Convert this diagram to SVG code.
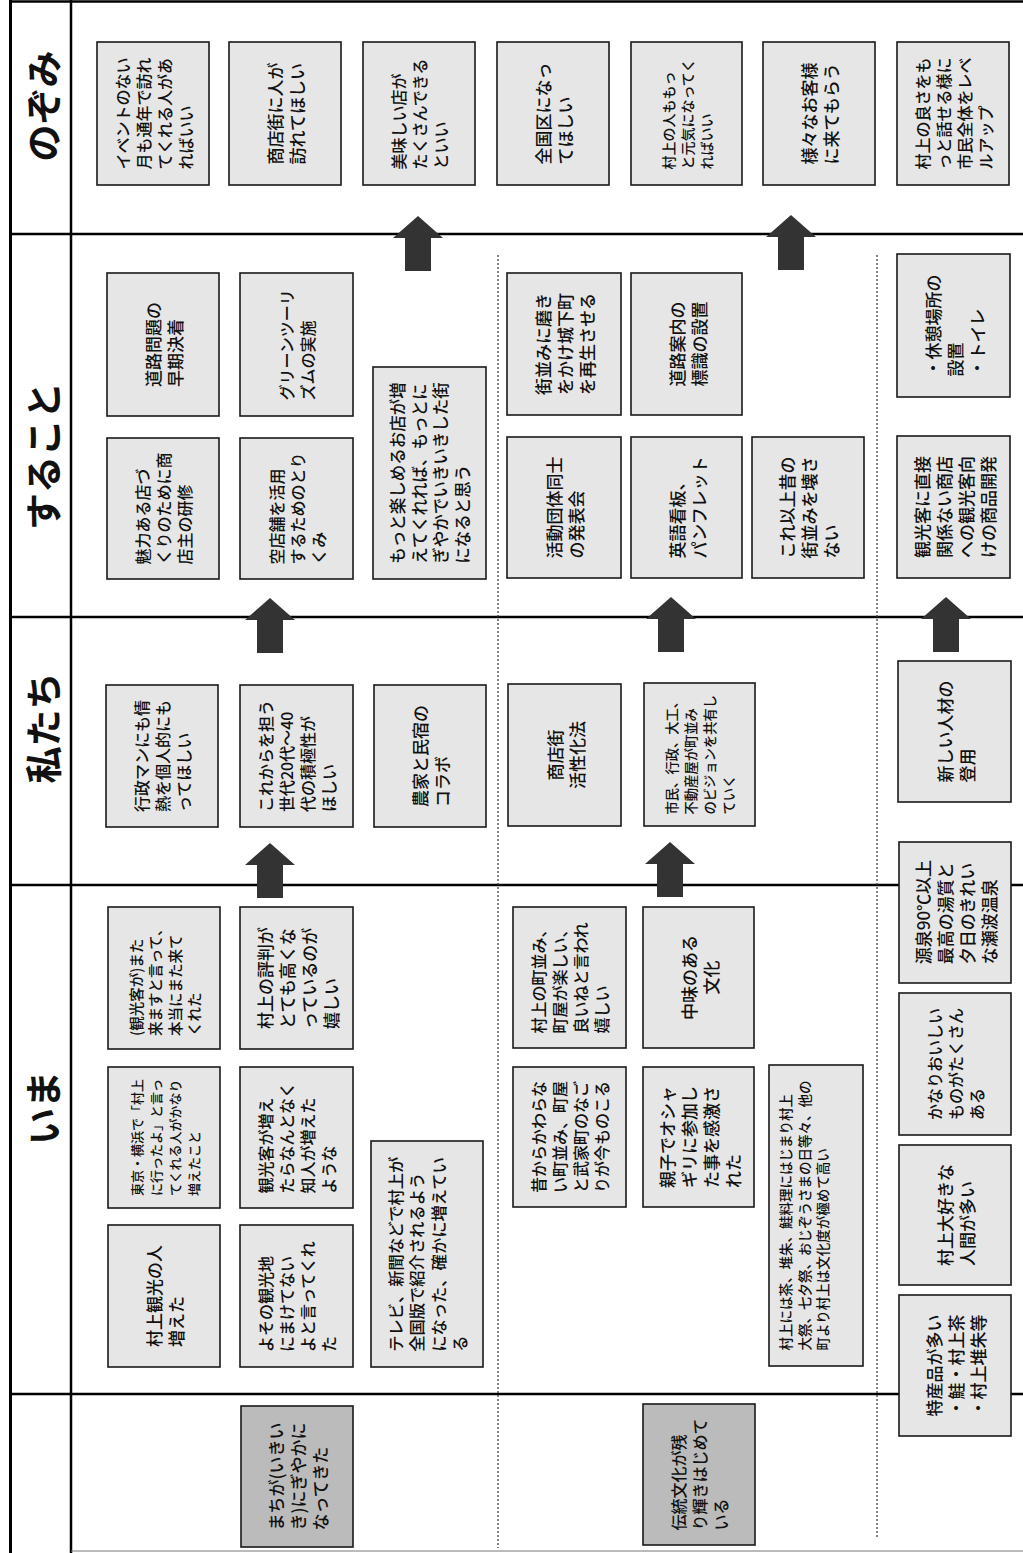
<svg xmlns="http://www.w3.org/2000/svg" xmlns:xlink="http://www.w3.org/1999/xlink" width="1023" height="1553" viewBox="0 0 1023 1553">
<style>
.box{fill:#e6e6e6;stroke:#1a1a1a;stroke-width:1.6}
.dark{fill:#bbbbbb}
.t{font-family:"Noto Sans CJK JP","Noto Sans CJK SC",sans-serif;fill:#111;dominant-baseline:central;font-weight:500}
.hd{font-size:37px;font-weight:700;text-anchor:middle}
.mid{text-anchor:middle}
.frame{stroke:#000;stroke-width:2.5;fill:none}
.thin{stroke:#777;stroke-width:1}
.dot{stroke:#333;stroke-width:1.2;stroke-dasharray:2 2;fill:none}
.arrow{fill:#333}
</style>
<defs>
<polygon id="arrow" points="0,0 25,22 13,22 13,55 -13,55 -13,22 -25,22"/>
</defs>
<rect width="1023" height="1553" fill="#fff"/>
<g id="frame" class="frame">
<line x1="10.5" y1="0" x2="10.5" y2="1553" stroke-width="3"/>
<line x1="71" y1="0" x2="71" y2="1553"/>
<line x1="10" y1="1.5" x2="1023" y2="1.5"/>
<line x1="10" y1="234" x2="1023" y2="234"/>
<line x1="10" y1="617" x2="1023" y2="617"/>
<line x1="10" y1="885" x2="1023" y2="885"/>
<line x1="10" y1="1394" x2="1023" y2="1394"/>
<line class="thin" x1="71" y1="1551" x2="1023" y2="1551"/>
</g>
<g id="dividers" class="dot">
<line x1="498" y1="255" x2="498" y2="1548"/>
<line x1="877" y1="255" x2="877" y2="1538"/>
</g>
<g id="headers" class="t hd">
<text transform="translate(42,106) rotate(-90)">のぞみ</text>
<text transform="translate(42,456) rotate(-90)">すること</text>
<text transform="translate(42,728) rotate(-90)">私たち</text>
<text transform="translate(42,1108) rotate(-90)">いま</text>
</g>
<g id="connectors" class="arrow">
<use xlink:href="#arrow" href="#arrow" x="418" y="216"/>
<use xlink:href="#arrow" href="#arrow" x="791" y="215"/>
<use xlink:href="#arrow" href="#arrow" x="270" y="598"/>
<use xlink:href="#arrow" href="#arrow" x="671" y="597"/>
<use xlink:href="#arrow" href="#arrow" x="946" y="597"/>
<use xlink:href="#arrow" href="#arrow" x="270" y="843"/>
<use xlink:href="#arrow" href="#arrow" x="670" y="842"/>
</g>
<g id="nodes">
<g id="n1" transform="translate(153,113.5) rotate(-90)"><rect class="box" x="-71.5" y="-56" width="143" height="112"/><text class="t" font-size="16"><tspan x="-56" y="-31.5">イベントのない</tspan><tspan x="-56" y="-10.5">月も通年で訪れ</tspan><tspan x="-56" y="10.5">てくれる人があ</tspan><tspan x="-56" y="31.5">ればいい</tspan></text></g>
<g id="n2" transform="translate(285,113.5) rotate(-90)"><rect class="box" x="-71.5" y="-56" width="143" height="112"/><text class="t" font-size="17"><tspan x="-51" y="-11">商店街に人が</tspan><tspan x="-51" y="11">訪れてほしい</tspan></text></g>
<g id="n3" transform="translate(419,113.5) rotate(-90)"><rect class="box" x="-71.5" y="-56" width="143" height="112"/><text class="t" font-size="16"><tspan x="-56" y="-21">美味しい店が</tspan><tspan x="-56" y="0">たくさんできる</tspan><tspan x="-56" y="21">といい</tspan></text></g>
<g id="n4" transform="translate(553,113.5) rotate(-90)"><rect class="box" x="-71.5" y="-56" width="143" height="112"/><text class="t" font-size="17"><tspan x="-51" y="-11">全国区になっ</tspan><tspan x="-51" y="11">てほしい</tspan></text></g>
<g id="n5" transform="translate(686.5,113.5) rotate(-90)"><rect class="box" x="-71.5" y="-55.5" width="143" height="111"/><text class="t" font-size="14"><tspan x="-56" y="-19">村上の人ももっ</tspan><tspan x="-56" y="0">と元気になってく</tspan><tspan x="-56" y="19">ればいい</tspan></text></g>
<g id="n6" transform="translate(819,113.5) rotate(-90)"><rect class="box" x="-71.5" y="-56" width="143" height="112"/><text class="t" font-size="17"><tspan x="-51" y="-11">様々なお客様</tspan><tspan x="-51" y="11">に来てもらう</tspan></text></g>
<g id="n7" transform="translate(953,113.5) rotate(-90)"><rect class="box" x="-71.5" y="-56" width="143" height="112"/><text class="t" font-size="16"><tspan x="-56" y="-31.5">村上の良さをも</tspan><tspan x="-56" y="-10.5">っと話せる様に</tspan><tspan x="-56" y="10.5">市民全体をレベ</tspan><tspan x="-56" y="31.5">ルアップ</tspan></text></g>

<g id="s1" transform="translate(163,344.5) rotate(-90)"><rect class="box" x="-71.5" y="-56" width="143" height="112"/><text class="t" font-size="17"><tspan x="-42.5" y="-11">道路問題の</tspan><tspan x="-42.5" y="11">早期決着</tspan></text></g>
<g id="s2" transform="translate(296.5,344.5) rotate(-90)"><rect class="box" x="-71.5" y="-56.5" width="143" height="113"/><text class="t" font-size="16"><tspan x="-56" y="-10.5">グリーンツーリ</tspan><tspan x="-56" y="10.5">ズムの実施</tspan></text></g>
<g id="s3" transform="translate(163,508.5) rotate(-90)"><rect class="box" x="-70.5" y="-56" width="141" height="112"/><text class="t" font-size="16"><tspan x="-56" y="-21">魅力ある店づ</tspan><tspan x="-56" y="0">くりのために商</tspan><tspan x="-56" y="21">店主の研修</tspan></text></g>
<g id="s4" transform="translate(296.5,508.5) rotate(-90)"><rect class="box" x="-70.5" y="-56.5" width="141" height="113"/><text class="t" font-size="16"><tspan x="-56" y="-21">空店舗を活用</tspan><tspan x="-56" y="0">するためのとり</tspan><tspan x="-56" y="21">くみ</tspan></text></g>
<g id="s5" transform="translate(429.5,473) rotate(-90)"><rect class="box" x="-106" y="-56.5" width="212" height="113"/><text class="t" font-size="16.5"><tspan x="-90.75" y="-32.25">もっと楽しめるお店が増</tspan><tspan x="-90.75" y="-10.75">えてくれれば、もっとに</tspan><tspan x="-90.75" y="10.75">ぎやかでいきいきした街</tspan><tspan x="-90.75" y="32.25">になると思う</tspan></text></g>
<g id="s6" transform="translate(564,344) rotate(-90)"><rect class="box" x="-71" y="-57" width="142" height="114"/><text class="t" font-size="17"><tspan x="-51" y="-22">街並みに磨き</tspan><tspan x="-51" y="0">をかけ城下町</tspan><tspan x="-51" y="22">を再生させる</tspan></text></g>
<g id="s7" transform="translate(686.5,344) rotate(-90)"><rect class="box" x="-71" y="-55.5" width="142" height="111"/><text class="t" font-size="17"><tspan x="-42.5" y="-11">道路案内の</tspan><tspan x="-42.5" y="11">標識の設置</tspan></text></g>
<g id="s8" transform="translate(564,507.5) rotate(-90)"><rect class="box" x="-70.5" y="-57" width="141" height="114"/><text class="t" font-size="17"><tspan x="-51" y="-11">活動団体同士</tspan><tspan x="-51" y="11">の発表会</tspan></text></g>
<g id="s9" transform="translate(686.5,507.5) rotate(-90)"><rect class="box" x="-70.5" y="-55.5" width="141" height="111"/><text class="t" font-size="17"><tspan x="-51" y="-11">英語看板、</tspan><tspan x="-51" y="11">パンフレット</tspan></text></g>
<g id="s10" transform="translate(808,507.5) rotate(-90)"><rect class="box" x="-70.5" y="-56" width="141" height="112"/><text class="t" font-size="17"><tspan x="-51" y="-22">これ以上昔の</tspan><tspan x="-51" y="0">街並みを壊さ</tspan><tspan x="-51" y="22">ない</tspan></text></g>
<g id="s11" transform="translate(953.5,325.5) rotate(-90)"><rect class="box" x="-71.5" y="-56.5" width="143" height="113"/><text class="t" font-size="17"><tspan x="-51" y="-22">・休憩場所の</tspan><tspan x="-51" y="0">設置</tspan><tspan x="-51" y="22">・トイレ</tspan></text></g>
<g id="s12" transform="translate(953.5,507) rotate(-90)"><rect class="box" x="-71" y="-56.5" width="142" height="113"/><text class="t" font-size="17"><tspan x="-51" y="-33">観光客に直接</tspan><tspan x="-51" y="-11">関係ない商店</tspan><tspan x="-51" y="11">への観光客向</tspan><tspan x="-51" y="33">けの商品開発</tspan></text></g>

<g id="w1" transform="translate(162,756) rotate(-90)"><rect class="box" x="-71" y="-56" width="142" height="112"/><text class="t" font-size="16"><tspan x="-56" y="-21">行政マンにも情</tspan><tspan x="-56" y="0">熱を個人的にも</tspan><tspan x="-56" y="21">ってほしい</tspan></text></g>
<g id="w2" transform="translate(296.5,756) rotate(-90)"><rect class="box" x="-71" y="-56.5" width="142" height="113"/><text class="t" font-size="16"><tspan x="-56" y="-31.5">これからを担う</tspan><tspan x="-56" y="-10.5">世代20代～40</tspan><tspan x="-56" y="10.5">代の積極性が</tspan><tspan x="-56" y="31.5">ほしい</tspan></text></g>
<g id="w3" transform="translate(430,756) rotate(-90)"><rect class="box" x="-71" y="-56" width="142" height="112"/><text class="t" font-size="17"><tspan x="-51" y="-11">農家と民宿の</tspan><tspan x="-51" y="11">コラボ</tspan></text></g>
<g id="w4" transform="translate(564.5,755) rotate(-90)"><rect class="box" x="-71" y="-56.5" width="142" height="113"/><text class="t mid" font-size="17"><tspan x="0" y="-11">商店街</tspan><tspan x="0" y="11">活性化法</tspan></text></g>
<g id="w5" transform="translate(699.5,754.5) rotate(-90)"><rect class="box" x="-71.5" y="-55.5" width="143" height="111"/><text class="t" font-size="13.3"><tspan x="-60" y="-28.5">市民、行政、大工、</tspan><tspan x="-60" y="-9.5">不動産屋が町並み</tspan><tspan x="-60" y="9.5">のビジョンを共有し</tspan><tspan x="-60" y="28.5">ていく</tspan></text></g>
<g id="w6" transform="translate(954.5,731.5) rotate(-90)"><rect class="box" x="-70.5" y="-56.5" width="141" height="113"/><text class="t" font-size="17"><tspan x="-51" y="-11">新しい人材の</tspan><tspan x="-51" y="11">登用</tspan></text></g>

<g id="i1" transform="translate(164,978) rotate(-90)"><rect class="box" x="-71" y="-56" width="142" height="112"/><text class="t" font-size="14.5"><tspan x="-58" y="-29.25">(観光客が)また</tspan><tspan x="-58" y="-9.75">来ますと言って、</tspan><tspan x="-58" y="9.75">本当にまた来て</tspan><tspan x="-58" y="29.25">くれた</tspan></text></g>
<g id="i2" transform="translate(296.5,978) rotate(-90)"><rect class="box" x="-71" y="-56.5" width="142" height="113"/><text class="t" font-size="17"><tspan x="-51" y="-33">村上の評判が</tspan><tspan x="-51" y="-11">とても高くな</tspan><tspan x="-51" y="11">っているのが</tspan><tspan x="-51" y="33">嬉しい</tspan></text></g>
<g id="i3" transform="translate(164,1137.5) rotate(-90)"><rect class="box" x="-70.5" y="-56" width="141" height="112"/><text class="t" font-size="13"><tspan x="-58.5" y="-28.5">東京・横浜で「村上</tspan><tspan x="-58.5" y="-9.5">に行ったよ」と言っ</tspan><tspan x="-58.5" y="9.5">てくれる人がかなり</tspan><tspan x="-58.5" y="28.5">増えたこと</tspan></text></g>
<g id="i4" transform="translate(296.5,1137.5) rotate(-90)"><rect class="box" x="-70.5" y="-56.5" width="141" height="113"/><text class="t" font-size="16"><tspan x="-56" y="-31.5">観光客が増え</tspan><tspan x="-56" y="-10.5">たらなんとなく</tspan><tspan x="-56" y="10.5">知人が増えた</tspan><tspan x="-56" y="31.5">ような</tspan></text></g>
<g id="i5" transform="translate(427,1254) rotate(-90)"><rect class="box" x="-113" y="-56" width="226" height="112"/><text class="t" font-size="16.3"><tspan x="-97.8" y="-32.25">テレビ、新聞などで村上が</tspan><tspan x="-97.8" y="-10.75">全国版で紹介されるよう</tspan><tspan x="-97.8" y="10.75">になった、確かに増えてい</tspan><tspan x="-97.8" y="32.25">る</tspan></text></g>
<g id="i6" transform="translate(164,1296) rotate(-90)"><rect class="box" x="-71" y="-56" width="142" height="112"/><text class="t" font-size="17"><tspan x="-51" y="-11">村上観光の人</tspan><tspan x="-51" y="11">増えた</tspan></text></g>
<g id="i7" transform="translate(296.5,1296) rotate(-90)"><rect class="box" x="-71" y="-56.5" width="142" height="113"/><text class="t" font-size="16"><tspan x="-56" y="-31.5">よその観光地</tspan><tspan x="-56" y="-10.5">にまけてない</tspan><tspan x="-56" y="10.5">よと言ってくれ</tspan><tspan x="-56" y="31.5">た</tspan></text></g>
<g id="i8" transform="translate(569.5,977.5) rotate(-90)"><rect class="box" x="-70.5" y="-56.5" width="141" height="113"/><text class="t" font-size="16"><tspan x="-56" y="-31.5">村上の町並み、</tspan><tspan x="-56" y="-10.5">町屋が楽しい、</tspan><tspan x="-56" y="10.5">良いねと言われ</tspan><tspan x="-56" y="31.5">嬉しい</tspan></text></g>
<g id="i9" transform="translate(698.5,977.5) rotate(-90)"><rect class="box" x="-70.5" y="-55.5" width="141" height="111"/><text class="t mid" font-size="17"><tspan x="0" y="-11">中味のある</tspan><tspan x="0" y="11">文化</tspan></text></g>
<g id="i10" transform="translate(569.5,1137) rotate(-90)"><rect class="box" x="-70" y="-56.5" width="140" height="113"/><text class="t" font-size="16"><tspan x="-56" y="-31.5">昔からかわらな</tspan><tspan x="-56" y="-10.5">い町並み、町屋</tspan><tspan x="-56" y="10.5">と武家町のなご</tspan><tspan x="-56" y="31.5">りが今ものこる</tspan></text></g>
<g id="i11" transform="translate(698.5,1137) rotate(-90)"><rect class="box" x="-70" y="-55.5" width="140" height="111"/><text class="t" font-size="17"><tspan x="-51" y="-33">親子でオシャ</tspan><tspan x="-51" y="-11">ギリに参加し</tspan><tspan x="-51" y="11">た事を感激さ</tspan><tspan x="-51" y="33">れた</tspan></text></g>
<g id="i12" transform="translate(816,1215.5) rotate(-90)"><rect class="box" x="-150.5" y="-47" width="301" height="94"/><text class="t" font-size="13.5"><tspan x="-135" y="-31">村上には茶、堆朱、鮭料理にはじまり村上</tspan><tspan x="-135" y="-12.5">大祭、七夕祭、おじぞうさまの日等々、他の</tspan><tspan x="-135" y="6">町より村上は文化度が極めて高い</tspan></text></g>

<g id="r1" transform="translate(955,912.5) rotate(-90)"><rect class="box" x="-70.5" y="-56" width="141" height="112"/><text class="t" font-size="17"><tspan x="-51.8" y="-33">源泉90℃以上</tspan><tspan x="-51.8" y="-11">最高の湯質と</tspan><tspan x="-51.8" y="11">夕日のきれい</tspan><tspan x="-51.8" y="33">な瀬波温泉</tspan></text></g>
<g id="r2" transform="translate(955,1064) rotate(-90)"><rect class="box" x="-71" y="-56" width="142" height="112"/><text class="t" font-size="16"><tspan x="-56" y="-21">かなりおいしい</tspan><tspan x="-56" y="0">ものがたくさん</tspan><tspan x="-56" y="21">ある</tspan></text></g>
<g id="r3" transform="translate(955,1215) rotate(-90)"><rect class="box" x="-70" y="-56" width="140" height="112"/><text class="t" font-size="17"><tspan x="-51" y="-11">村上大好きな</tspan><tspan x="-51" y="11">人間が多い</tspan></text></g>
<g id="r4" transform="translate(955,1365.5) rotate(-90)"><rect class="box" x="-70.5" y="-56" width="141" height="112"/><text class="t" font-size="17"><tspan x="-51" y="-22">特産品が多い</tspan><tspan x="-51" y="0">・鮭・村上茶</tspan><tspan x="-51" y="22">・村上堆朱等</tspan></text></g>

<g id="b1" transform="translate(297,1476.5) rotate(-90)"><rect class="box dark" x="-70.5" y="-56" width="141" height="112"/><text class="t" font-size="17"><tspan x="-54" y="-22">まちが(いきい</tspan><tspan x="-54" y="0">き)にぎやかに</tspan><tspan x="-54" y="22">なってきた</tspan></text></g>
<g id="b2" transform="translate(699,1474.5) rotate(-90)"><rect class="box dark" x="-70.5" y="-56" width="141" height="112"/><text class="t" font-size="16"><tspan x="-56" y="-21">伝統文化が残</tspan><tspan x="-56" y="0">り輝きはじめて</tspan><tspan x="-56" y="21">いる</tspan></text></g>
</g>
</svg>
